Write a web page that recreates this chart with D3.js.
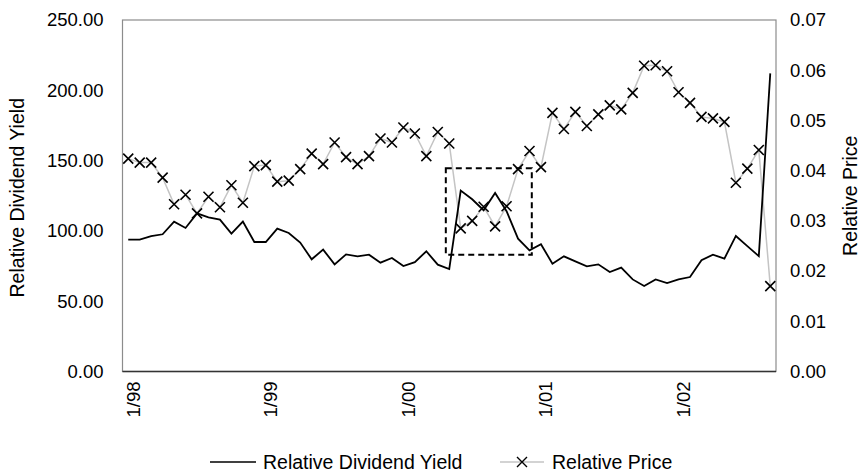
<!DOCTYPE html>
<html><head><meta charset="utf-8">
<script src="https://cdn.jsdelivr.net/npm/d3@7"></script>
<style>
body{margin:0;background:#fff;}
text{font-family:"Liberation Sans",Arial,Helvetica,sans-serif;}
</style></head>
<body><svg id="c" width="865" height="475"></svg>
<script>
// months 1/98 .. 9/02
const months = [];
for (let y = 98; y <= 102; y++) {
  for (let m = 1; m <= 12; m++) {
    if (y === 102 && m > 9) break;
    months.push(m + "/" + String(y % 100).padStart(2, "0"));
  }
}
const tickLabels = ["1/98", "1/99", "1/00", "1/01", "1/02"];
const leftTicks = [0, 50, 100, 150, 200, 250];
const rightTicks = [0, 0.01, 0.02, 0.03, 0.04, 0.05, 0.06, 0.07];

const dividendYield = [
  93.8, 93.8, 96.3, 97.6, 106.6, 102.1, 112.5, 109.7, 108.0, 98.1,
  106.6, 92.1, 92.1, 101.6, 98.5, 91.7, 79.8, 86.7, 76.2, 83.3,
  81.9, 83.1, 77.4, 80.7, 75.0, 77.8, 85.5, 76.0, 72.9, 128.7,
  122.5, 114.7, 127.0, 114.0, 94.5, 86.2, 90.5, 76.7, 81.9, 78.3,
  74.8, 76.2, 70.7, 73.9, 65.5, 60.8, 65.5, 62.9, 65.5, 67.2,
  79.1, 83.1, 80.3, 96.4, 89.2, 82.1, 212.0
];
const relativePrice = [
  0.0424, 0.0416, 0.0416, 0.0386, 0.0333, 0.0352, 0.0315, 0.0348, 0.0327, 0.0371,
  0.0336, 0.0409, 0.0411, 0.0378, 0.0380, 0.0403, 0.0434, 0.0413, 0.0456, 0.0427,
  0.0413, 0.0429, 0.0464, 0.0456, 0.0486, 0.0474, 0.0429, 0.0477, 0.0454, 0.0285,
  0.0300, 0.0328, 0.0289, 0.0329, 0.0403, 0.0439, 0.0407, 0.0515, 0.0483, 0.0517,
  0.0489, 0.0512, 0.0530, 0.0522, 0.0555, 0.0609, 0.0610, 0.0598, 0.0556, 0.0535,
  0.0507, 0.0504, 0.0497, 0.0376, 0.0404, 0.0441, 0.0170
];
// highlighted region (category index span, left-axis value span)
const boxIndex = [28.2, 35.7];
const boxValue = [83, 144.5];

const svg = d3.select("#c");
const L = 122.5, R = 776, T = 20, B = 371.5;

const x = d3.scaleBand().domain(months).range([L, R]).padding(0);
const cx = d => x(d) + x.bandwidth() / 2;
const yL = d3.scaleLinear().domain([0, 250]).range([B, T]);
const yR = d3.scaleLinear().domain([0, 0.07]).range([B, T]);
const idxX = d3.scaleLinear().domain([0, months.length]).range([L, R]);

// frame
svg.append("rect").attr("x", L).attr("y", T).attr("width", R - L).attr("height", B - T)
  .attr("fill", "none").attr("stroke", "#8c8c8c").attr("stroke-width", 1.2);
svg.append("line").attr("x1", L).attr("x2", R).attr("y1", B).attr("y2", B)
  .attr("stroke", "#333").attr("stroke-width", 1.5);

// axes
const fs = "18.5px", fs2 = "19.5px";
const ff = "Liberation Sans, Arial, sans-serif";
const gl = svg.append("g").attr("transform", `translate(${L},0)`)
  .call(d3.axisLeft(yL).tickValues(leftTicks).tickFormat(d3.format(".2f")).tickSize(0).tickPadding(19));
gl.select(".domain").remove();
gl.selectAll("text").attr("font-size", fs).attr("fill", "#000").attr("font-family", ff);

const gr = svg.append("g").attr("transform", `translate(${R},0)`)
  .call(d3.axisRight(yR).tickValues(rightTicks).tickFormat(d3.format(".2f")).tickSize(0).tickPadding(14));
gr.select(".domain").remove();
gr.selectAll("text").attr("font-size", fs).attr("fill", "#000").attr("font-family", ff);

const gb = svg.append("g").attr("transform", `translate(5,${B})`)
  .call(d3.axisBottom(x).tickValues(tickLabels).tickSize(0));
gb.select(".domain").remove();
gb.selectAll("text").attr("font-size", fs).attr("fill", "#000")
  .attr("font-family", ff)
  .attr("text-anchor", "end").attr("transform", "rotate(-90)")
  .attr("x", -10).attr("y", 0).attr("dy", "0.35em");

// axis titles
svg.append("text").attr("transform", `translate(24,${(T + B) / 2 + 2}) rotate(-90)`)
  .attr("text-anchor", "middle").attr("font-size", fs2).text("Relative Dividend Yield");
svg.append("text").attr("transform", `translate(857,${(T + B) / 2}) rotate(-90)`)
  .attr("text-anchor", "middle").attr("font-size", fs2).text("Relative Price");

// price series
svg.append("path").datum(relativePrice)
  .attr("fill", "none").attr("stroke", "#c4c4c4").attr("stroke-width", 1.5)
  .attr("d", d3.line().x((d, i) => cx(months[i])).y(d => yR(d)));
const cs = 5;
svg.append("g").selectAll("path").data(relativePrice).join("path")
  .attr("transform", (d, i) => `translate(${cx(months[i])},${yR(d)})`)
  .attr("d", `M${-cs},${-cs}L${cs},${cs}M${-cs},${cs}L${cs},${-cs}`)
  .attr("stroke", "#000").attr("stroke-width", 1.6).attr("fill", "none");

// dividend yield
svg.append("path").datum(dividendYield)
  .attr("fill", "none").attr("stroke", "#000").attr("stroke-width", 1.8)
  .attr("d", d3.line().x((d, i) => cx(months[i])).y(d => yL(d)));

// dashed box
svg.append("rect")
  .attr("x", idxX(boxIndex[0])).attr("y", yL(boxValue[1]))
  .attr("width", idxX(boxIndex[1]) - idxX(boxIndex[0]))
  .attr("height", yL(boxValue[0]) - yL(boxValue[1]))
  .attr("fill", "none").attr("stroke", "#000").attr("stroke-width", 2).attr("stroke-dasharray", "6,4");

// legend
const ly = 462;
const lg = svg.append("g");
lg.append("line").attr("x1", 210).attr("x2", 256).attr("y1", ly).attr("y2", ly).attr("stroke", "#000").attr("stroke-width", 1.5);
lg.append("text").attr("x", 263).attr("y", ly).attr("dy", "0.35em").attr("font-size", fs2).text("Relative Dividend Yield");
lg.append("line").attr("x1", 500).attr("x2", 544).attr("y1", ly).attr("y2", ly).attr("stroke", "#c4c4c4").attr("stroke-width", 1.5);
lg.append("path").attr("transform", `translate(522,${ly})`)
  .attr("d", `M${-cs},${-cs}L${cs},${cs}M${-cs},${cs}L${cs},${-cs}`)
  .attr("stroke", "#000").attr("stroke-width", 1.4);
lg.append("text").attr("x", 552).attr("y", ly).attr("dy", "0.35em").attr("font-size", fs2).text("Relative Price");
</script></body></html>
